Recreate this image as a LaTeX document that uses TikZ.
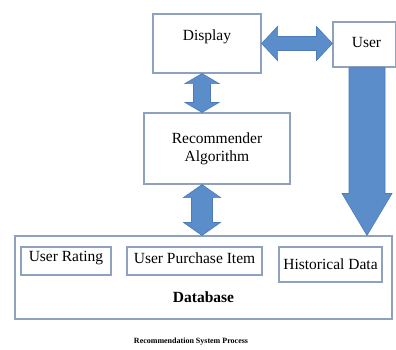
\documentclass[tikz,border=0pt]{standalone}
\usepackage{fontspec}
\setmainfont{Liberation Serif}
\usetikzlibrary{calc}

\definecolor{boxline}{HTML}{8EA2C0}
\definecolor{arrowfill}{HTML}{5B8DCB}
\definecolor{arrowline}{HTML}{4B7BB8}

\tikzset{
  box/.style={draw=boxline, line width=1.1pt, fill=white, inner sep=0pt},
  txt/.style={font=\fontsize{15.5}{18}\selectfont, align=center, inner sep=0pt},
  fat/.style={fill=arrowfill, draw=arrowline, line width=0.6pt, line join=miter},
  % vertical two-headed block arrow: head half width, shaft half width, head length
  vdouble/.style n args={3}{to path={
    let \p1=(\tikztostart), \p2=(\tikztotarget) in
    (\x1,\y1) -- ({\x1+#1pt},{\y1-#3pt}) -- ({\x1+#2pt},{\y1-#3pt})
    -- ({\x1+#2pt},{\y2+#3pt}) -- ({\x1+#1pt},{\y2+#3pt}) -- (\x1,\y2)
    -- ({\x1-#1pt},{\y2+#3pt}) -- ({\x1-#2pt},{\y2+#3pt})
    -- ({\x1-#2pt},{\y1-#3pt}) -- ({\x1-#1pt},{\y1-#3pt}) -- cycle}},
  % horizontal two-headed block arrow
  hdouble/.style n args={3}{to path={
    let \p1=(\tikztostart), \p2=(\tikztotarget) in
    (\x1,\y1) -- ({\x1+#3pt},{\y1+#1pt}) -- ({\x1+#3pt},{\y1+#2pt})
    -- ({\x2-#3pt},{\y1+#2pt}) -- ({\x2-#3pt},{\y1+#1pt}) -- (\x2,\y1)
    -- ({\x2-#3pt},{\y1-#1pt}) -- ({\x2-#3pt},{\y1-#2pt})
    -- ({\x1+#3pt},{\y1-#2pt}) -- ({\x1+#3pt},{\y1-#1pt}) -- cycle}},
  % downward single-headed block arrow
  vsingle/.style n args={3}{to path={
    let \p1=(\tikztostart), \p2=(\tikztotarget) in
    ({\x1-#2pt},\y1) -- ({\x1+#2pt},\y1) -- ({\x1+#2pt},{\y2+#3pt})
    -- ({\x1+#1pt},{\y2+#3pt}) -- (\x1,\y2) -- ({\x1-#1pt},{\y2+#3pt})
    -- ({\x1-#2pt},{\y2+#3pt}) -- cycle}}
}

\begin{document}
\begin{tikzpicture}[x=1pt, y=-1pt]
\useasboundingbox (0,0) rectangle (396,349);

% main blocks
\node[box, minimum width=108pt, minimum height=59pt,
      label={[txt, yshift=6.5pt]center:Display}] (disp) at (207,43.5) {};
\node[box, minimum width=63pt, minimum height=45pt,
      label={[txt, yshift=2.5pt, xshift=2pt]center:User}] (user) at (364.5,44.5) {};
\node[box, minimum width=146pt, minimum height=71pt,
      label={[txt]center:Recommender\\Algorithm}] (rec) at (217,148.5) {};

% database with its three stores
\node[box, minimum width=377pt, minimum height=83pt,
      label={[txt, font=\fontsize{15.5}{18}\selectfont\bfseries, yshift=-19.5pt]center:Database}] (db) at (203.5,277.5) {};
\node[box, minimum width=90pt, minimum height=28pt,
      label={[txt, yshift=3pt]center:User Rating}] (rating) at (66,261) {};
\node[box, minimum width=135pt, minimum height=28pt,
      label={[txt, yshift=3pt]center:User Purchase Item}] (purchase) at (194.5,261) {};
\node[box, minimum width=103pt, minimum height=35pt,
      label={[txt, yshift=0.5pt]center:Historical Data}] (hist) at (330.5,264.5) {};

% block arrows between the stages
\coordinate (axis) at (202,0);
\draw[fat] (axis |- disp.south) to[vdouble={17}{8.5}{10}] (axis |- rec.north);
\draw[fat] (axis |- rec.south) to[vdouble={18.5}{10.5}{13}] (axis |- db.north);
\draw[fat] (disp.east) to[hdouble={17}{7}{16}] (disp.east -| user.west);
\coordinate (ufoot) at (367,0);
\draw[fat] (ufoot |- user.south) to[vsingle={25}{18}{42}] (ufoot |- db.north);

% caption
\node[font=\fontsize{8}{9}\selectfont\bfseries, inner sep=0pt] (cap) at (191,342) {Recommendation System Process};
\end{tikzpicture}
\end{document}
